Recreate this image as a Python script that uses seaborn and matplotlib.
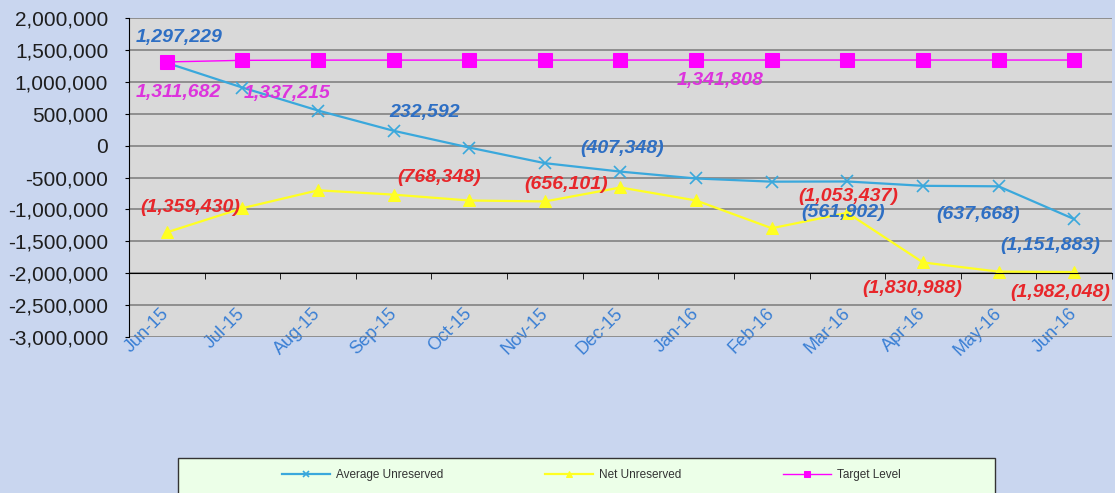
import numpy as np
import pandas as pd
import matplotlib.pyplot as plt
import seaborn as sns
from matplotlib.patches import Rectangle
from matplotlib.ticker import FuncFormatter, FixedLocator

months = ['Jun-15', 'Jul-15', 'Aug-15', 'Sep-15', 'Oct-15', 'Nov-15', 'Dec-15',
          'Jan-16', 'Feb-16', 'Mar-16', 'Apr-16', 'May-16', 'Jun-16']
avg_unreserved = [1297229, 910000, 550000, 232592, -30000, -275000, -407348,
                  -515000, -565000, -561902, -630000, -637668, -1151883]
net_unreserved = [-1359430, -980000, -700000, -768348, -860000, -875000, -656101,
                  -860000, -1295000, -1053437, -1830988, -1975000, -1982048]
target_level = [1311682, 1337215, 1340500, 1340800, 1341000, 1341200, 1341500,
                1341808, 1341808, 1341808, 1341808, 1341808, 1341808]

# which points carry a value label, with offset in points
avg_labels = {0: (9, 18), 3: (22, 13), 6: (1, 17), 9: (-3, -22), 11: (-15, -20), 12: (-17, -19)}
net_labels = {0: (17, 18), 3: (33, 12), 6: (-39, 2), 9: (1, 12), 10: (-8, -19), 12: (-10, -15)}
tgt_labels = {0: (8, -22), 1: (32, -24), 7: (17, -15)}

df = pd.DataFrame({'month': months, 'avg': avg_unreserved,
                   'net': net_unreserved, 'target': target_level})

fig = plt.figure(figsize=(11.15, 4.93), dpi=100)
fig.patch.set_facecolor('#c9d6ef')
ax = fig.add_axes([0.1157, 0.3164, 0.8816, 0.647])
ax.set_facecolor('#d9d9d9')

blue, yellow, magenta = '#3aa8dc', '#ffff22', '#ff00ff'
sns.lineplot(data=df, x='month', y='avg', sort=False, color=blue, lw=1.6,
             marker='x', ms=8, mew=1.2, mec=blue, ax=ax, label='Average Unreserved', zorder=3)
sns.lineplot(data=df, x='month', y='net', sort=False, color=yellow, lw=1.6,
             marker='^', ms=8, mec=yellow, ax=ax, label='Net Unreserved', zorder=3)
sns.lineplot(data=df, x='month', y='target', sort=False, color=magenta, lw=1.0,
             marker='s', ms=9.5, mec=magenta, ax=ax, label='Target Level', zorder=3)


def fmt(v):
    return f'({abs(v):,.0f})' if v < 0 else f'{v:,.0f}'


for series, labels, col in [(avg_unreserved, avg_labels, '#2e6fc4'),
                            (net_unreserved, net_labels, '#e8262a'),
                            (target_level, tgt_labels, '#dd33dd')]:
    for i, (dx, dy) in labels.items():
        ax.annotate(fmt(series[i]), (i, series[i]), xytext=(dx, dy), textcoords='offset points',
                    ha='center', va='center', fontsize=14, fontweight='bold', style='italic',
                    color=col, family='Liberation Sans', zorder=5)

ax.set_xlim(-0.5, 12.5)
ax.set_ylim(-3000000, 2000000)
ax.set_yticks(np.arange(-3000000, 2000001, 500000))
ax.yaxis.set_major_formatter(FuncFormatter(lambda v, p: f'{v:,.0f}'))
ax.grid(axis='y', color='#7a7a7a', lw=1.1)
ax.grid(axis='x', visible=False)
ax.set_axisbelow(True)

ax.spines['bottom'].set_position(('data', -2000000))
ax.spines['bottom'].set_zorder(4)
for s in ['top', 'right']:
    ax.spines[s].set_visible(False)
ax.spines['left'].set_color('black')
ax.spines['bottom'].set_color('black')

ax.xaxis.set_minor_locator(FixedLocator(np.arange(-0.5, 13, 1)))
ax.tick_params(axis='x', which='major', length=0, pad=27)
ax.tick_params(axis='x', which='minor', length=4.5, direction='out', color='black')
ax.tick_params(axis='y', length=3, direction='out', labelsize=15, labelcolor='#1e1e1e', pad=12)
for t in ax.get_yticklabels():
    t.set_family('Liberation Sans')
for t in ax.get_xticklabels():
    t.set_rotation(45)
    t.set_ha('right')
    t.set_va('center')
    t.set_rotation_mode('anchor')
    t.set_color('#3a7fd4')
    t.set_fontsize(13)
    t.set_family('Liberation Sans')
ax.set_xlabel('')
ax.set_ylabel('')

handles, labs = ax.get_legend_handles_labels()
ax.legend_.remove()
fig.patches.append(Rectangle((0.1596, -0.05), 0.7327, 0.121, transform=fig.transFigure,
                             facecolor='#ecffe8', edgecolor='#333333', lw=1, zorder=1))
leg = fig.legend(handles, labs, loc='center left', bbox_to_anchor=(0.2475, 0.0365),
                 ncol=3, frameon=False, borderpad=0, handlelength=4.1, handletextpad=0.5,
                 columnspacing=8.6, markerscale=0.5,
                 prop={'family': 'Liberation Sans', 'size': 8.5})
for t in leg.get_texts():
    t.set_color('#333333')

fig.savefig('out.png', dpi=100, facecolor=fig.get_facecolor())
